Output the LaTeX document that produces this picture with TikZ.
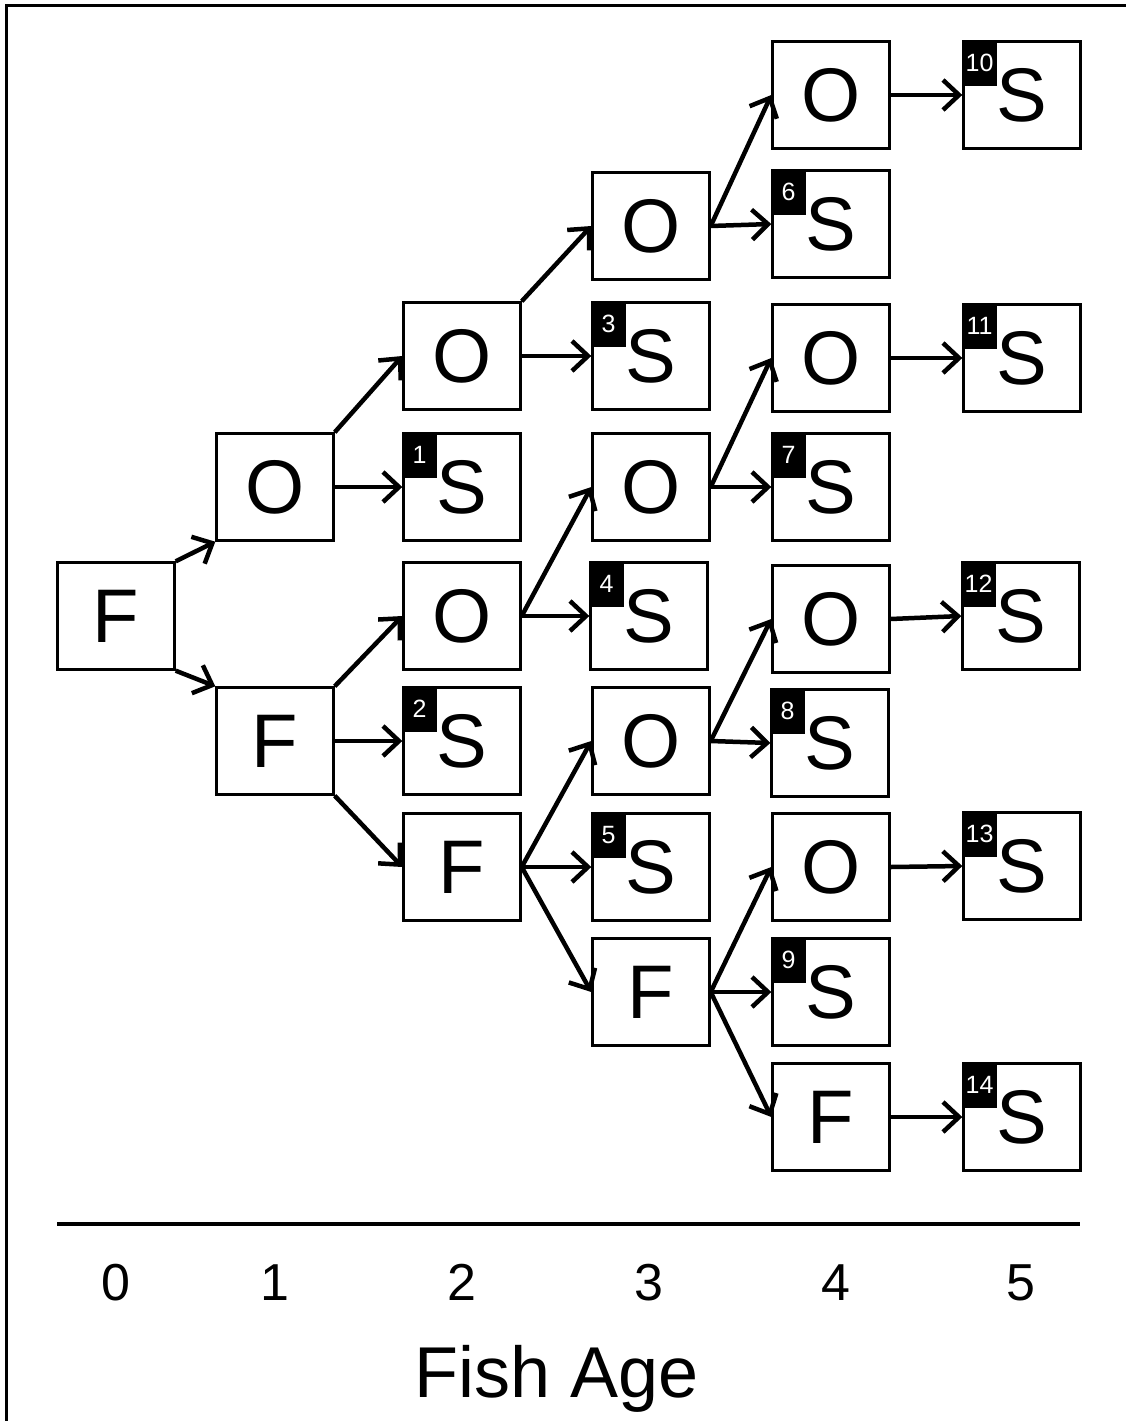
\documentclass[tikz,border=0pt]{standalone}
\usepackage{fontspec}
\setmainfont{Liberation Sans}
\usetikzlibrary{arrows.meta}
\begin{document}
\begin{tikzpicture}[x=1pt,y=-1pt,
  box/.style={draw, line width=2.4pt, minimum width=117pt, minimum height=107pt, inner sep=0pt, font=\fontsize{76}{76}\selectfont},
  badge/.style={fill=black, text=white, minimum width=34pt, minimum height=45pt, inner sep=0pt, anchor=north west, font=\fontsize{25}{25}\selectfont},
  arr/.style={line width=4.5pt, -{Straight Barb[length=16pt,width=30pt]}},
  agelbl/.style={font=\fontsize{52}{52}\selectfont, anchor=base}
]
\useasboundingbox (0,0) rectangle (1126,1421);
\draw[line width=3pt] (6,1421) -- (6,6) -- (1126,6);

% column 0
\node[box] (F0) at (116,616) {F};
% column 1
\node[box] (O1) at (275,487) {O};
\node[box] (F1) at (275,741) {F};
% column 2
\node[box] (O2a) at (462,356) {O};
\node[box] (S1) at (462,487) {S};
\node[box] (O2b) at (462,616) {O};
\node[box] (S2) at (462,741) {S};
\node[box] (F2) at (462,867) {F};
% column 3
\node[box] (O3a) at (651,226) {O};
\node[box] (S3) at (651,356) {S};
\node[box] (O3b) at (651,487) {O};
\node[box] (S4) at (649,616) {S};
\node[box] (O3c) at (651,741) {O};
\node[box] (S5) at (651,867) {S};
\node[box] (F3) at (651,992) {F};
% column 4
\node[box] (O4a) at (831,95) {O};
\node[box] (S6) at (831,224) {S};
\node[box] (O4b) at (831,358) {O};
\node[box] (S7) at (831,487) {S};
\node[box] (O4c) at (831,619) {O};
\node[box] (S8) at (830,743) {S};
\node[box] (O4d) at (831,867) {O};
\node[box] (S9) at (831,992) {S};
\node[box] (F4) at (831,1117) {F};
% column 5
\node[box] (S10) at (1022,95) {S};
\node[box] (S11) at (1022,358) {S};
\node[box] (S12) at (1021,616) {S};
\node[box] (S13) at (1022,866) {S};
\node[box] (S14) at (1022,1117) {S};

% badges
\foreach \n in {1,...,14} {
  \node[badge] (b\n) at (S\n.north west) {\n};
}

% connectors
\draw[arr] (F0.north east) -- (O1.south west);
\draw[arr] (F0.south east) -- (F1.north west);
\draw[arr] (O1.north east) -- (O2a.west);
\draw[arr] (O1.east) -- (S1.west);
\draw[arr] (F1.north east) -- (O2b.west);
\draw[arr] (F1.east) -- (S2.west);
\draw[arr] (F1.south east) -- (F2.west);
\draw[arr] (O2a.north east) -- (O3a.west);
\draw[arr] (O2a.east) -- (S3.west);
\draw[arr] (O2b.east) -- (O3b.west);
\draw[arr] (O2b.east) -- (S4.west);
\draw[arr] (F2.east) -- (O3c.west);
\draw[arr] (F2.east) -- (S5.west);
\draw[arr] (F2.east) -- (F3.west);
\draw[arr] (O3a.east) -- (O4a.west);
\draw[arr] (O3a.east) -- (S6.west);
\draw[arr] (O3b.east) -- (O4b.west);
\draw[arr] (O3b.east) -- (S7.west);
\draw[arr] (O3c.east) -- (O4c.west);
\draw[arr] (O3c.east) -- (S8.west);
\draw[arr] (F3.east) -- (O4d.west);
\draw[arr] (F3.east) -- (S9.west);
\draw[arr] (F3.east) -- (F4.west);
\draw[arr] (O4a.east) -- (S10.west);
\draw[arr] (O4b.east) -- (S11.west);
\draw[arr] (O4c.east) -- (S12.west);
\draw[arr] (O4d.east) -- (S13.west);
\draw[arr] (F4.east) -- (S14.west);

% axis
\draw[line width=4pt] (57,1224) -- (1080,1224);
\node[agelbl] (a0) at (116,1300) {0};
\node[agelbl] (a1) at (275,1300) {1};
\node[agelbl] (a2) at (462,1300) {2};
\node[agelbl] (a3) at (649,1300) {3};
\node[agelbl] (a4) at (836,1300) {4};
\node[agelbl] (a5) at (1021,1300) {5};
\node[font=\fontsize{72}{72}\selectfont, anchor=base] (title) at (557,1397) {Fish Age};
\end{tikzpicture}
\end{document}
